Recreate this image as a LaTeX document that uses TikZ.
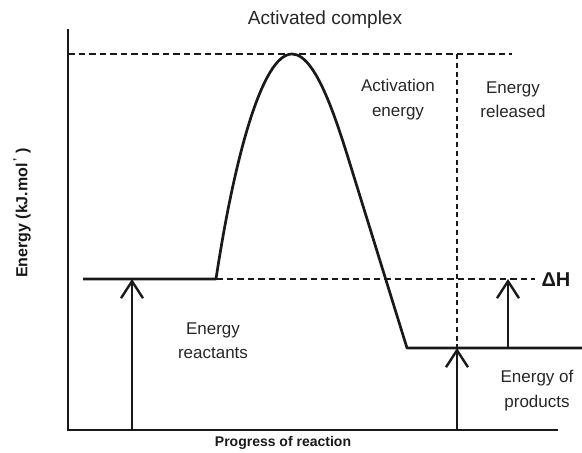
\documentclass[tikz,border=0pt]{standalone}
\usepackage{fontspec}
\setmainfont{Liberation Sans}
\usetikzlibrary{arrows.meta}
\begin{document}
\begin{tikzpicture}[x=1pt,y=-1pt,
  solidline/.style={line width=2.7pt,black!90},
  dashline/.style={line width=2.6pt,black!90,dash pattern=on 6.5pt off 4pt},
  dotline/.style={line width=2.6pt,black!90,dash pattern=on 5pt off 3.8pt},
  uparrow/.style={line width=2.4pt,black!90,-{Straight Barb[length=17pt,width=22pt,line width=2.4pt]}},
  lbl/.style={font=\fontsize{17}{24.5}\selectfont,align=center,text=black!85,inner sep=0pt},
  blbl/.style={font=\fontsize{14}{16}\selectfont\bfseries,text=black!90,inner sep=0pt}]
\useasboundingbox (0,0) rectangle (582,453);
% coordinates
\coordinate (ytop) at (68,29);
\coordinate (orig) at (68,430);
\coordinate (xend) at (558,430);
\coordinate (rstart) at (83,279);
\coordinate (rend) at (216,279);
\coordinate (peak) at (292,54);
\coordinate (mid) at (355,180);
\coordinate (pstart) at (407,348);
\coordinate (pend) at (582,348);
\coordinate (tdl) at (68,54);
\coordinate (tdr) at (512,54);
\coordinate (vdt) at (457,54);
\coordinate (vdb) at (457,348);
\coordinate (hdr) at (535,279);
\coordinate (a1b) at (132,430);
\coordinate (a1t) at (132,279);
\coordinate (a2b) at (457,430);
\coordinate (a2t) at (457,348);
\coordinate (a3b) at (508,348);
\coordinate (a3t) at (508,279);
% axes
\draw[solidline] (ytop) -- (orig) -- (xend);
% dashed lines
\draw[dashline] (tdl) -- (tdr);
\draw[dashline] (rend) -- (hdr);
\draw[dotline] (vdt) -- (vdb);
% energy curve
\draw[solidline,line join=round] (rstart) -- (rend)
  .. controls (234,160) and (262,54) .. (peak)
  .. controls (318,54) and (340,132) .. (mid)
  -- (pstart) -- (pend);
% arrows
\draw[uparrow] (a1b) -- (a1t);
\draw[uparrow] (a2b) -- (a2t);
\draw[uparrow] (a3b) -- (a3t);
% labels
\node[lbl,font=\fontsize{19}{24}\selectfont] (complex) at (325,20) {Activated complex};
\node[lbl] (actE) at (398,99.5) {Activation\\energy};
\node[lbl] (relE) at (513,99.5) {Energy\\released};
\node[lbl] (reacE) at (213,340.5) {Energy\\reactants};
\node[lbl] (prodE) at (537,390.5) {Energy of\\products};
\node[font=\fontsize{20}{22}\selectfont\bfseries,text=black!90,inner sep=0pt] (dH) at (556,280) {ΔH};
\node[blbl] (xlab) at (283,443) {Progress of reaction};
\node[blbl,font=\fontsize{16}{18}\selectfont\bfseries,rotate=90] (ylab) at (22,213) {Energy (kJ.mol\textsuperscript{\,'} )};
\end{tikzpicture}
\end{document}
